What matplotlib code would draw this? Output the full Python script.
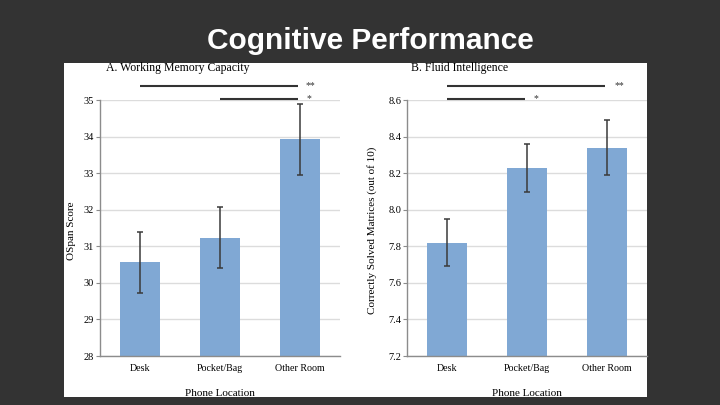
import matplotlib
matplotlib.use("Agg")
import matplotlib.pyplot as plt
from matplotlib.patches import Rectangle

categories = ["Desk", "Pocket/Bag", "Other Room"]
wmc_values = [30.56, 31.24, 33.93]
wmc_errors = [0.83, 0.84, 0.97]
fluid_values = [7.82, 8.227, 8.339]
fluid_errors = [0.13, 0.13, 0.15]
wmc_ticks = [28, 29, 30, 31, 32, 33, 34, 35]
fluid_ticks = [7.2, 7.4, 7.6, 7.8, 8.0, 8.2, 8.4, 8.6]
fluid_ticklabels = ["7.2", "7.4", "7.6", "7.8", "8.0", "8.2", "8.4", "8.6"]

W, H = 720, 405
fig = plt.figure(figsize=(7.2, 4.05), dpi=100, facecolor="#333333")

fig.patches.append(Rectangle((64 / W, 1 - 397 / H), (647 - 64) / W, (397 - 63) / H,
                             transform=fig.transFigure, facecolor="white",
                             edgecolor="none", zorder=-10))

fig.text(370 / W, 1 - 49 / H, "Cognitive Performance", color="white",
         fontsize=21.5, fontweight="bold", family="Liberation Sans",
         ha="center", va="baseline")

serif = "Liberation Serif"
bar_color = "#80a8d4"
spine_color = "#8c8c8c"
grid_color = "#dcdcdc"


def panel(left_px, values, errors, ticks, ticklabels, ylim, ylabel, ylabel_x, title, title_x,
          sig):
    ax = fig.add_axes([left_px / W, 1 - 356 / H, 240 / W, 256 / H])
    ax.set_facecolor("none")
    x = list(range(len(categories)))
    ax.bar(x, values, width=0.5, color=bar_color, zorder=2)
    ax.errorbar(x, values, yerr=errors, fmt="none", ecolor="#3a3a3a",
                elinewidth=1.1, capsize=2.5, capthick=1.1, zorder=3)
    ax.set_xlim(-0.5, 2.5)
    ax.set_ylim(*ylim)
    ax.set_yticks(ticks)
    ax.set_yticklabels(ticklabels, family=serif, fontsize=7.5)
    ax.set_xticks(x)
    ax.set_xticklabels(categories, family=serif, fontsize=7.2)
    ax.tick_params(axis="x", length=0, pad=6)
    ax.tick_params(axis="y", length=3, color=spine_color, pad=1.2)
    ax.yaxis.grid(True, color=grid_color, linewidth=1.0, zorder=0)
    ax.set_axisbelow(True)
    for s in ("top", "right"):
        ax.spines[s].set_visible(False)
    for s in ("left", "bottom"):
        ax.spines[s].set_color(spine_color)
        ax.spines[s].set_linewidth(1.0)
    ax.set_ylabel(ylabel, family=serif, fontsize=8)
    ax.yaxis.set_label_coords(ylabel_x, 0.49)
    ax.yaxis.label.set_va("center")
    ax.set_xlabel("Phone Location", family=serif, fontsize=8)
    ax.xaxis.set_label_coords(0.5, -0.145)
    ax.xaxis.label.set_va("center")
    fig.text(title_x / W, 1 - 68 / H, title, family=serif, fontsize=8.5,
             ha="left", va="center")
    for (x0, x1, yv, label, tx) in sig:
        ax.plot([x0, x1], [yv, yv], color="#333333", linewidth=1.5,
                clip_on=False, zorder=4, solid_capstyle="butt")
        ax.text(tx, yv, label, family=serif, fontsize=7, ha="left",
                va="center", color="#333333", clip_on=False)
    return ax


panel(100, wmc_values, wmc_errors, wmc_ticks, [str(t) for t in wmc_ticks], (28, 35),
      "OSpan Score", -0.12, "A. Working Memory Capacity", 106,
      [(0, 1.98, 35.38, "**", 2.07), (1, 1.98, 35.03, "*", 2.08)])

panel(407, fluid_values, fluid_errors, fluid_ticks, fluid_ticklabels, (7.2, 8.6),
      "Correctly Solved Matrices (out of 10)", -0.146, "B. Fluid Intelligence", 411,
      [(0, 1.98, 8.677, "**", 2.1), (0, 0.98, 8.605, "*", 1.08)])

fig.savefig("out.png", dpi=100, facecolor=fig.get_facecolor())
